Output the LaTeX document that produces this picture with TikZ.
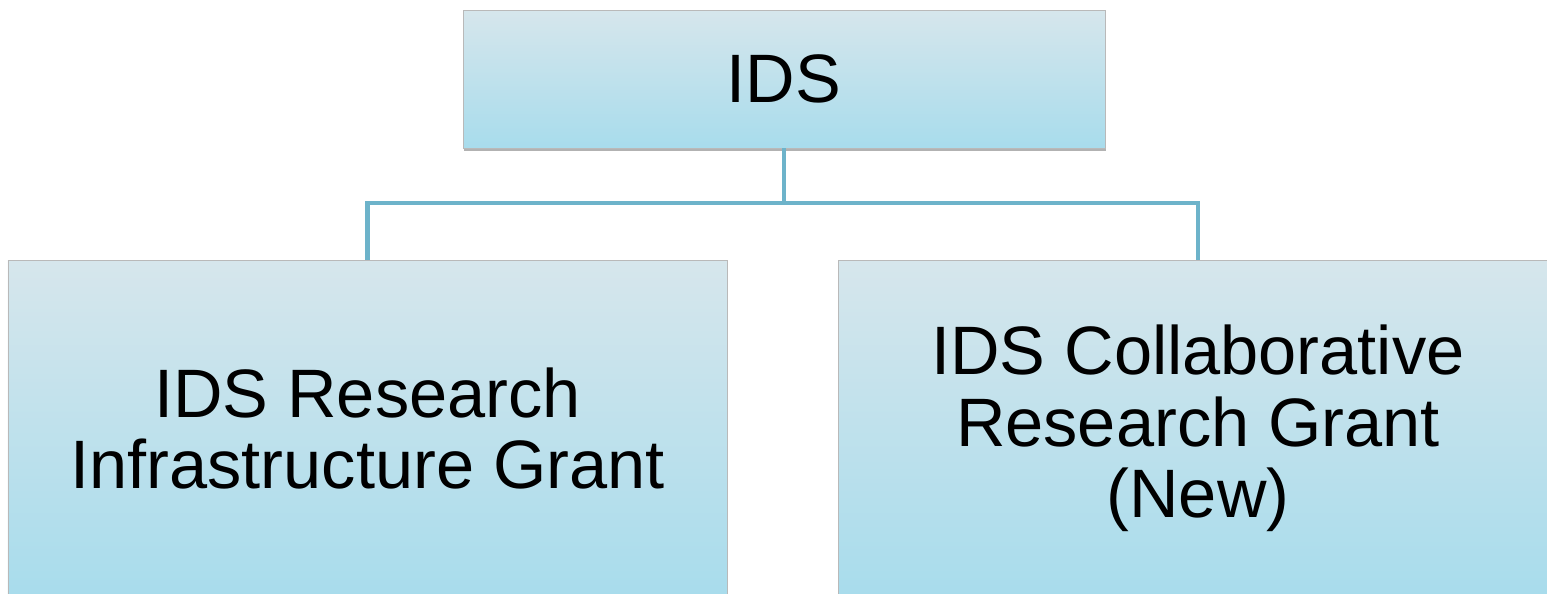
\documentclass[tikz,border=0pt]{standalone}
\usepackage{fontspec}
\setmainfont{Liberation Sans}
\usepackage{tikz}
\usetikzlibrary{positioning,shadows}
\usepackage{xcolor}

\definecolor{boxtop}{HTML}{D6E6EC}
\definecolor{boxbot}{HTML}{A8DCEC}
\definecolor{linkblue}{HTML}{6DB3CA}

\begin{document}
\begin{tikzpicture}[
    box/.style={rectangle, draw=gray!55, line width=0.5pt, top color=boxtop, bottom color=boxbot,
        drop shadow={shadow xshift=0.3pt, shadow yshift=-1.6pt, opacity=0.3, fill=black},
        align=center, font=\fontsize{39}{40.7}\selectfont, inner sep=0pt},
    kid/.style={box, minimum width=14.38cm, minimum height=6.7cm},
    link/.style={draw=linkblue, line width=2.3pt}
]

% Frame of the page
\useasboundingbox (0,0) rectangle (30.94,-11.86);
\clip (0,0) rectangle (30.94,-11.86);

% Top box
\node[box, minimum width=12.84cm, minimum height=2.76cm] (ids) at (15.68,-1.58) {IDS};

% Two grants
\node[kid, below=2.24cm of ids, xshift=-8.33cm] (infra) {IDS Research\\Infrastructure Grant};
\node[kid, below=2.24cm of ids, xshift=8.28cm] (collab) {IDS Collaborative\\Research Grant\\(New)};

% Connectors
\draw[link] (ids.south) -- ++(0,-1.1) coordinate (fork);
\draw[link] (fork) -| (infra.north);
\draw[link] (fork) -| (collab.north);

\end{tikzpicture}
\end{document}
